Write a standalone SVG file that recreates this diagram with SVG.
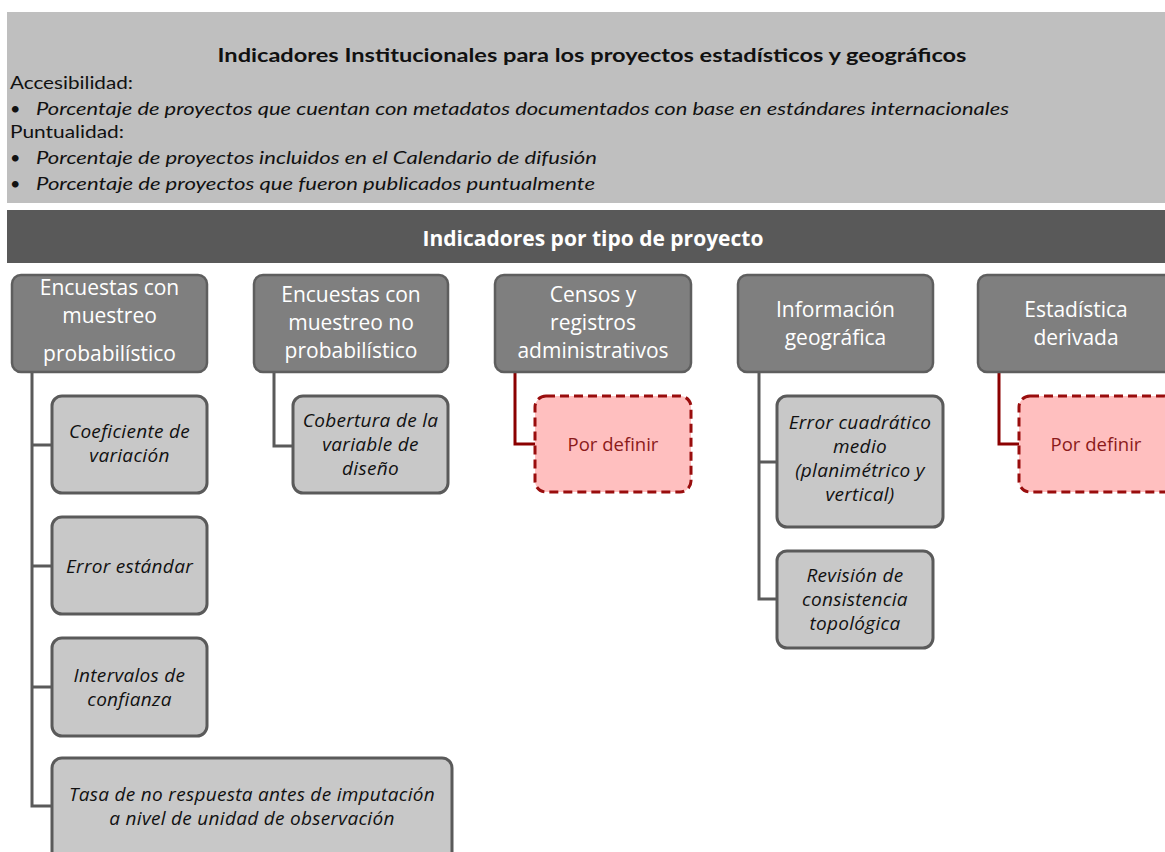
<svg xmlns="http://www.w3.org/2000/svg" width="1165" height="852" viewBox="0 0 1165 852">
<style>
.top{font-family:Lato,"Open Sans","Liberation Sans",sans-serif;fill:#111;font-size:18px}
.it{font-style:italic}
.hd rect{fill:#7f7f7f;stroke:#5e5e5e;stroke-width:2.5}
.hd text{font-family:"Open Sans","Liberation Sans",sans-serif;font-size:21px;fill:#fff;text-anchor:middle}
.ch rect{fill:#c8c8c8;stroke:#5a5a5a;stroke-width:3}
.ch text{font-family:"Open Sans","Liberation Sans",sans-serif;font-size:19px;letter-spacing:0.3px;font-style:italic;fill:#111;text-anchor:middle}
.pd rect{fill:#ffbfbf;stroke:#990d0d;stroke-width:3;stroke-dasharray:9 5}
.pd text{font-family:"Open Sans","Liberation Sans",sans-serif;font-size:18.5px;fill:#8b1a1a;text-anchor:middle}
.cg{fill:none;stroke:#5a5a5a;stroke-width:3}
.cr{fill:none;stroke:#8b0000;stroke-width:3}
</style>
<rect width="1165" height="852" fill="#fff"/>
<g id="institucionales">
<rect x="7" y="12" width="1160" height="191" fill="#bfbfbf"/>
<text class="top" x="592" y="62" text-anchor="middle" font-weight="bold" font-size="20" textLength="749" lengthAdjust="spacingAndGlyphs">Indicadores Institucionales para los proyectos estadísticos y geográficos</text>
<text class="top" x="10" y="89" textLength="123" lengthAdjust="spacingAndGlyphs">Accesibilidad:</text>
<text class="top" x="10" y="115">•</text>
<text class="top it" x="36" y="115" textLength="973" lengthAdjust="spacingAndGlyphs">Porcentaje de proyectos que cuentan con metadatos documentados con base en estándares internacionales</text>
<text class="top" x="10" y="138" textLength="114" lengthAdjust="spacingAndGlyphs">Puntualidad:</text>
<text class="top" x="10" y="164">•</text>
<text class="top it" x="36" y="164" textLength="561" lengthAdjust="spacingAndGlyphs">Porcentaje de proyectos incluidos en el Calendario de difusión</text>
<text class="top" x="10" y="190">•</text>
<text class="top it" x="36" y="190" textLength="559" lengthAdjust="spacingAndGlyphs">Porcentaje de proyectos que fueron publicados puntualmente</text>
</g>
<g id="por-tipo">
<rect x="7" y="210" width="1160" height="53" fill="#595959"/>
<text x="593" y="246" text-anchor="middle" font-family="'Open Sans','Liberation Sans',sans-serif" font-size="21" font-weight="bold" fill="#fff">Indicadores por tipo de proyecto</text>
</g>
<g id="connectors">
<path class="cg" d="M32 372V806H52M32 445H52M32 566H52M32 687H52"/>
<path class="cg" d="M274 372V446H293"/>
<path class="cr" d="M515 372V444H535"/>
<path class="cg" d="M759 372V599H777M759 462H777"/>
<path class="cr" d="M999 372V444H1019"/>
</g>
<g id="n-probabilistico" class="hd">
<rect x="12" y="275" width="195" height="97" rx="9"/>
<text x="109.5" y="295">Encuestas con</text>
<text x="109.5" y="323">muestreo</text>
<text x="109.5" y="361">probabilístico</text>
</g>
<g id="n-no-probabilistico" class="hd">
<rect x="254" y="275" width="194" height="97" rx="9"/>
<text x="351" y="302">Encuestas con</text>
<text x="351" y="330">muestreo no</text>
<text x="351" y="358">probabilístico</text>
</g>
<g id="n-censos" class="hd">
<rect x="495" y="275" width="196" height="97" rx="9"/>
<text x="593" y="302">Censos y</text>
<text x="593" y="330">registros</text>
<text x="593" y="358">administrativos</text>
</g>
<g id="n-geografica" class="hd">
<rect x="738" y="275" width="195" height="97" rx="9"/>
<text x="835.5" y="317">Información</text>
<text x="835.5" y="345">geográfica</text>
</g>
<g id="n-derivada" class="hd">
<rect x="978" y="275" width="200" height="97" rx="9"/>
<text x="1076" y="317">Estadística</text>
<text x="1076" y="345">derivada</text>
</g>
<g id="c-coeficiente" class="ch">
<rect x="52" y="396" width="155" height="97" rx="10"/>
<text x="129.5" y="438">Coeficiente de</text>
<text x="129.5" y="462">variación</text>
</g>
<g id="c-error-estandar" class="ch">
<rect x="52" y="517" width="155" height="97" rx="10"/>
<text x="129.5" y="573">Error estándar</text>
</g>
<g id="c-intervalos" class="ch">
<rect x="52" y="638" width="155" height="98" rx="10"/>
<text x="129.5" y="682">Intervalos de</text>
<text x="129.5" y="706">confianza</text>
</g>
<g id="c-tasa" class="ch">
<rect x="52" y="758" width="400" height="110" rx="10"/>
<text x="252" y="801">Tasa de no respuesta antes de imputación</text>
<text x="252" y="825">a nivel de unidad de observación</text>
</g>
<g id="c-cobertura" class="ch">
<rect x="293" y="396" width="155" height="97" rx="10"/>
<text x="370.5" y="427">Cobertura de la</text>
<text x="370.5" y="451">variable de</text>
<text x="370.5" y="475">diseño</text>
</g>
<g id="c-pordefinir-1" class="pd">
<rect x="535" y="396" width="156" height="96" rx="11"/>
<text x="613" y="451">Por definir</text>
</g>
<g id="c-error-cuadratico" class="ch">
<rect x="777" y="396" width="166" height="131" rx="10"/>
<text x="860" y="429">Error cuadrático</text>
<text x="860" y="453">medio</text>
<text x="860" y="477">(planimétrico y</text>
<text x="860" y="501">vertical)</text>
</g>
<g id="c-revision" class="ch">
<rect x="777" y="551" width="156" height="97" rx="10"/>
<text x="855" y="582">Revisión de</text>
<text x="855" y="606">consistencia</text>
<text x="855" y="630">topológica</text>
</g>
<g id="c-pordefinir-2" class="pd">
<rect x="1019" y="396" width="156" height="96" rx="11"/>
<text x="1096" y="451">Por definir</text>
</g>
</svg>
